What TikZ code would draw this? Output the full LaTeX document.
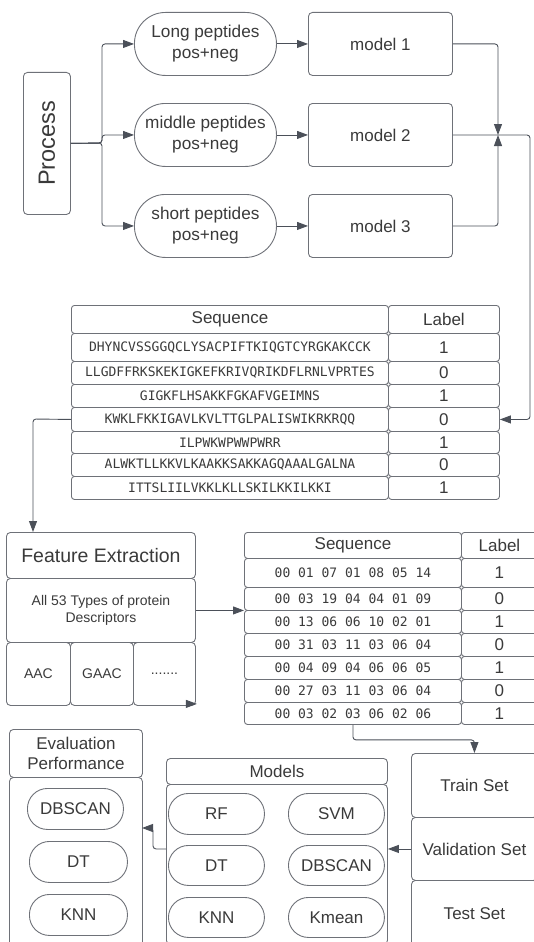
\documentclass[tikz,border=0pt]{standalone}
\usepackage{fontspec}
\setmainfont{Liberation Sans}
\newfontfamily\seqfont{DejaVu Sans Mono}
\usetikzlibrary{arrows.meta,calc}

\definecolor{edge}{HTML}{6E7178}
\definecolor{wire}{HTML}{4B5059}
\definecolor{ink}{HTML}{3A3A3A}

% place a node by its top-left and bottom-right corners
\newcommand\cellat[7]{\node[#6, minimum width={#4-#2}, minimum height={#5-#3}, anchor=north west] (#1) at (#2,#3) {#7};}

\begin{document}
\begin{tikzpicture}[x=1pt,y=-1pt,
  box/.style={draw=edge, line width=0.9pt, rounded corners=4pt, text=ink, align=center, inner sep=0pt,
    font=\fontsize{17}{20.5}\selectfont},
  pill/.style={box, rounded corners=31pt, font=\fontsize{17.2}{21}\selectfont},
  minipill/.style={box, rounded corners=20pt},
  seqcell/.style={box, rounded corners=3pt, font=\seqfont\fontsize{13}{15}\selectfont},
  labcell/.style={box, rounded corners=3pt},
  bigtitle/.style={box, font=\fontsize{19.5}{22}\selectfont},
  desc/.style={box, font=\fontsize{14}{17.5}\selectfont},
  small/.style={box, font=\fontsize{14}{16}\selectfont},
  wirestyle/.style={draw=wire, line width=0.9pt, rounded corners=3pt,
    -{Triangle[length=11pt,width=8pt]}, color=wire}
]
\useasboundingbox (0,0) rectangle (534,942);
\clip (0,0) rectangle (534,942);

% ---------- splitting by peptide length ----------
\cellat{proc}{23}{72}{70}{214}{box}{\fontsize{23.5}{25}\selectfont\rotatebox{90}{Process}}
\cellat{s1}{134}{12}{276}{75}{pill}{Long peptides\\pos+neg}
\cellat{s2}{134}{103}{276}{166}{pill}{middle peptides\\pos+neg}
\cellat{s3}{134}{194}{276}{257}{pill}{short peptides\\pos+neg}
\cellat{m1}{308}{12}{452}{75}{box}{model 1}
\cellat{m2}{308}{103}{452}{166}{box}{model 2}
\cellat{m3}{308}{194}{452}{257}{box}{model 3}

\coordinate (fork) at (102,143);
\coordinate (join) at (498,135);
\coordinate (rturn) at (530,135);

\draw[wirestyle] (proc.east) -- (fork) |- (s1.west);
\draw[wirestyle] (proc.east) -- (fork) |- (s2.west);
\draw[wirestyle] (proc.east) -- (fork) |- (s3.west);
\draw[wirestyle] (s1.east) -- (m1.west);
\draw[wirestyle] (s2.east) -- (m2.west);
\draw[wirestyle] (s3.east) -- (m3.west);
\draw[wirestyle] (m1.east) -| (join);
\draw[wirestyle] (m3.east) -| (join);

% ---------- raw sequence table ----------
\cellat{h1s}{71}{305}{388}{333}{labcell}{Sequence}
\cellat{h1l}{388}{305}{499}{333}{labcell}{Label}
\cellat{a1}{71}{333}{388}{361}{seqcell}{DHYNCVSSGGQCLYSACPIFTKIQGTCYRGKAKCCK}
\cellat{b1}{388}{333}{499}{361}{labcell}{1}
\cellat{a2}{71}{361}{388}{384}{seqcell}{LLGDFFRKSKEKIGKEFKRIVQRIKDFLRNLVPRTES}
\cellat{b2}{388}{361}{499}{384}{labcell}{0}
\cellat{a3}{71}{384}{388}{407}{seqcell}{GIGKFLHSAKKFGKAFVGEIMNS}
\cellat{b3}{388}{384}{499}{407}{labcell}{1}
\cellat{a4}{71}{407}{388}{431}{seqcell}{KWKLFKKIGAVLKVLTTGLPALISWIKRKRQQ}
\cellat{b4}{388}{407}{499}{431}{labcell}{0}
\cellat{a5}{71}{431}{388}{453}{seqcell}{ILPWKWPWWPWRR}
\cellat{b5}{388}{431}{499}{453}{labcell}{1}
\cellat{a6}{71}{453}{388}{476}{seqcell}{ALWKTLLKKVLKAAKKSAKKAGQAAALGALNA}
\cellat{b6}{388}{453}{499}{476}{labcell}{0}
\cellat{a7}{71}{476}{388}{499}{seqcell}{ITTSLIILVKKLKLLSKILKKILKKI}
\cellat{b7}{388}{476}{499}{499}{labcell}{1}

\draw[wirestyle] (m2.east) -- (rturn) |- (b4.east);

% ---------- feature extraction ----------
\cellat{fe}{6}{532}{195}{578}{bigtitle}{Feature Extraction}
\cellat{fd}{6}{578}{195}{642}{desc}{All 53 Types of protein\\Descriptors}
\cellat{f1}{6}{642}{70}{705}{small}{AAC}
\cellat{f2}{70}{642}{133}{705}{small}{GAAC}
\cellat{f3}{133}{642}{195}{705}{small}{.......}

\coordinate (lturn) at (33,419);
\draw[wirestyle] (a4.west) -- (lturn) -- (lturn |- fe.north);
\draw[wirestyle, shorten >=-1pt] ($(f3.south east)+(-10,-2)$) -- ($(f3.south east)+(0,-2)$);

% ---------- encoded table ----------
\cellat{h2s}{244}{532}{461}{558}{labcell}{Sequence}
\cellat{h2l}{461}{532}{537}{558}{labcell}{Label}
\cellat{c1}{244}{558}{461}{587}{seqcell}{00 01 07 01 08 05 14}
\cellat{d1}{461}{558}{537}{587}{labcell}{1}
\cellat{c2}{244}{587}{461}{610}{seqcell}{00 03 19 04 04 01 09}
\cellat{d2}{461}{587}{537}{610}{labcell}{0}
\cellat{c3}{244}{610}{461}{633}{seqcell}{00 13 06 06 10 02 01}
\cellat{d3}{461}{610}{537}{633}{labcell}{1}
\cellat{c4}{244}{633}{461}{656}{seqcell}{00 31 03 11 03 06 04}
\cellat{d4}{461}{633}{537}{656}{labcell}{0}
\cellat{c5}{244}{656}{461}{679}{seqcell}{00 04 09 04 06 06 05}
\cellat{d5}{461}{656}{537}{679}{labcell}{1}
\cellat{c6}{244}{679}{461}{702}{seqcell}{00 27 03 11 03 06 04}
\cellat{d6}{461}{679}{537}{702}{labcell}{0}
\cellat{c7}{244}{702}{461}{724}{seqcell}{00 03 02 03 06 02 06}
\cellat{d7}{461}{702}{537}{724}{labcell}{1}

\draw[wirestyle] (fd.east) -- (fd.east -| c2.west);

% ---------- data split ----------
\cellat{train}{411}{753}{537}{817}{box}{Train Set}
\cellat{val}{411}{817}{537}{880}{box}{Validation Set}
\cellat{test}{411}{880}{537}{946}{box}{Test Set}

\draw[wirestyle] (c7.south) -- ++(0,15) -| (train.north);

% ---------- models ----------
\cellat{mh}{166}{758}{387}{784}{box}{Models}
\cellat{mb}{166}{784}{387}{944}{box}{}
\cellat{rf}{168}{793}{264}{834}{minipill}{RF}
\cellat{svm}{288}{793}{384}{834}{minipill}{SVM}
\cellat{dt}{168}{845}{264}{885}{minipill}{DT}
\cellat{dbs}{288}{845}{384}{885}{minipill}{DBSCAN}
\cellat{knn}{168}{897}{264}{937}{minipill}{KNN}
\cellat{km}{288}{897}{384}{937}{minipill}{Kmean}

\draw[wirestyle] (val.west) -- (val.west -| mb.east);

% ---------- evaluation ----------
\cellat{eh}{9}{729}{142}{777}{box}{Evaluation\\Performance}
\cellat{eb}{9}{777}{142}{946}{box}{}
\cellat{edbs}{27}{788}{123}{829}{minipill}{DBSCAN}
\cellat{edt}{29}{841}{127}{882}{minipill}{DT}
\cellat{eknn}{29}{894}{127}{935}{minipill}{KNN}

\coordinate (evin) at (142,828);
\draw[wirestyle] (mb.west |- val.west) -- ++(-13,0) |- (evin);
\end{tikzpicture}
\end{document}
